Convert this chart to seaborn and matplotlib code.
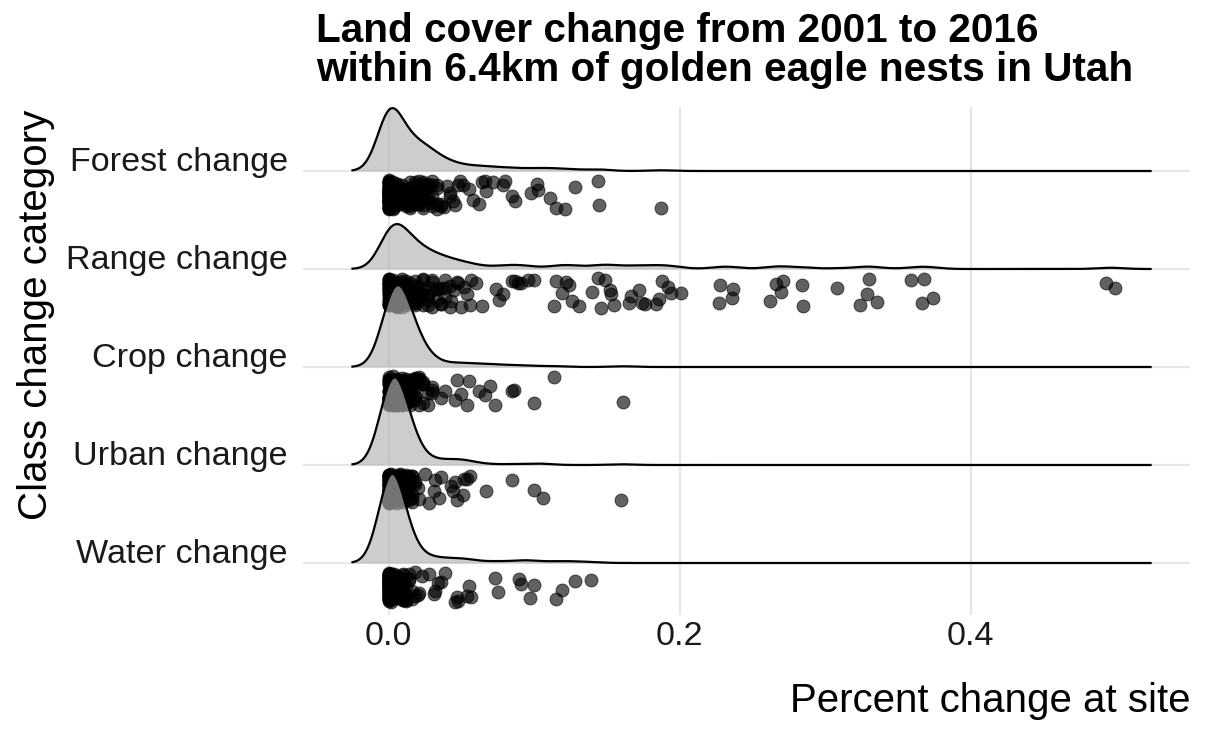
import numpy as np
import pandas as pd
import matplotlib
matplotlib.use("Agg")
import matplotlib.pyplot as plt
import seaborn as sns

categories = ["Forest change", "Range change", "Crop change", "Urban change", "Water change"]

forest_cluster_vals = [0.000, 0.003, 0.006, 0.009, 0.012, 0.015, 0.018, 0.021, 0.024, 0.027, 0.030, 0.033,
                       0.036, 0.038, 0.040, 0.042, 0.044, 0.046, 0.051, 0.058]
forest_cluster_counts = [62, 8, 7, 7, 7, 7, 7, 6, 6, 5, 5, 4, 1, 1, 1, 1, 1, 1, 1, 1]
forest_tail = [0.036, 0.042, 0.048, 0.049, 0.055, 0.062, 0.064, 0.066, 0.067, 0.072, 0.079, 0.080,
               0.085, 0.087, 0.098, 0.102, 0.103, 0.111, 0.115, 0.121, 0.128, 0.144, 0.145, 0.187]

range_cluster_vals = [0.000, 0.003, 0.006, 0.009, 0.012, 0.015, 0.018, 0.021, 0.024, 0.027, 0.030, 0.033,
                      0.036, 0.039, 0.042, 0.045, 0.048, 0.052, 0.056, 0.060]
range_cluster_counts = [28, 12, 11, 10, 8, 7, 6, 5, 5, 4, 4, 3, 3, 3, 2, 1, 1, 1, 1, 1]
range_tail = [0.043, 0.047, 0.050, 0.054, 0.057, 0.064, 0.074, 0.076, 0.079, 0.085, 0.087, 0.089,
              0.091, 0.096, 0.100, 0.114, 0.115, 0.119, 0.122, 0.124, 0.126, 0.131, 0.140, 0.144,
              0.146, 0.149, 0.152, 0.153, 0.155, 0.165, 0.167, 0.172, 0.174, 0.176, 0.184, 0.186,
              0.188, 0.192, 0.194, 0.201, 0.227, 0.228, 0.236, 0.237, 0.262, 0.266, 0.270, 0.271,
              0.284, 0.285, 0.308, 0.324, 0.329, 0.330, 0.336, 0.359, 0.367, 0.368, 0.374, 0.493, 0.499]

crop_cluster_vals = [0.000, 0.003, 0.006, 0.009, 0.012, 0.015, 0.018, 0.021, 0.024, 0.027, 0.030]
crop_cluster_counts = [26, 30, 26, 20, 15, 11, 8, 5, 3, 2, 2]
crop_tail = [0.023, 0.030, 0.036, 0.039, 0.046, 0.047, 0.050, 0.054, 0.055, 0.062, 0.066, 0.070,
             0.073, 0.085, 0.086, 0.100, 0.114, 0.161]

urban_cluster_vals = [0.000, 0.002, 0.004, 0.006, 0.008, 0.010, 0.012, 0.014, 0.016, 0.018]
urban_cluster_counts = [46, 22, 18, 14, 11, 9, 7, 7, 5, 2]
urban_tail = [0.011, 0.013, 0.016, 0.020, 0.021, 0.025, 0.028, 0.031, 0.032, 0.035, 0.036, 0.043,
              0.044, 0.046, 0.047, 0.051, 0.052, 0.054, 0.056, 0.067, 0.085, 0.100, 0.106, 0.160]

water_cluster_vals = [0.000, 0.002, 0.004, 0.006, 0.008, 0.010, 0.012, 0.014, 0.016, 0.018]
water_cluster_counts = [60, 24, 16, 11, 8, 6, 4, 3, 2, 2]
water_tail = [0.020, 0.021, 0.023, 0.028, 0.031, 0.032, 0.034, 0.036, 0.039, 0.046, 0.047, 0.048,
              0.054, 0.055, 0.057, 0.073, 0.075, 0.090, 0.091, 0.097, 0.100, 0.115, 0.119, 0.128, 0.139]

x_ticks = [0.0, 0.2, 0.4]
x_tick_labels = ["0.0", "0.2", "0.4"]
title_lines = ["Land cover change from 2001 to 2016",
               "within 6.4km of golden eagle nests in Utah"]
x_title = "Percent change at site"
y_title = "Class change category"

groups = {
    "Forest change": (forest_cluster_vals, forest_cluster_counts, forest_tail),
    "Range change": (range_cluster_vals, range_cluster_counts, range_tail),
    "Crop change": (crop_cluster_vals, crop_cluster_counts, crop_tail),
    "Urban change": (urban_cluster_vals, urban_cluster_counts, urban_tail),
    "Water change": (water_cluster_vals, water_cluster_counts, water_tail),
}
rows = []
for cat in categories:
    vals, cnts, tail = groups[cat]
    v = list(np.repeat(vals, cnts)) + list(tail)
    rows += [(cat, x) for x in v]
df = pd.DataFrame(rows, columns=["category", "value"])

# joint-bandwidth gaussian density on a common range (ggridges style)
bw = 0.0085
lo = df["value"].min() - 3 * bw
hi = df["value"].max() + 3 * bw
grid = np.linspace(lo, hi, 512)
dens = {}
for cat in categories:
    x = df.loc[df.category == cat, "value"].to_numpy()
    z = (grid[:, None] - x[None, :]) / bw
    dens[cat] = np.exp(-0.5 * z ** 2).sum(axis=1) / (len(x) * bw * np.sqrt(2 * np.pi))
dmax = max(d.max() for d in dens.values())
ridge_scale = 0.91

sns.set_theme(style="white")
plt.rcParams["font.family"] = ["Liberation Sans", "DejaVu Sans"]

PANEL_L, PANEL_R, PANEL_T, PANEL_B = 303, 1190, 107, 615
fig = plt.figure(figsize=(12.05, 7.32), dpi=100)
ax = fig.add_axes([PANEL_L / 1205, 1 - PANEL_B / 732, (PANEL_R - PANEL_L) / 1205, (PANEL_B - PANEL_T) / 732])

np.random.seed(7)
offset = 0.245
for i, cat in enumerate(categories):
    base = i - offset
    h = dens[cat] / dmax * ridge_scale
    ax.fill_between(grid, base - h, base, color=(0.70, 0.70, 0.70), alpha=0.65,
                    linewidth=0, zorder=2 + 2 * i)
    ax.plot(grid, base - h, color="black", lw=1.6, zorder=2.5 + 2 * i, solid_capstyle="butt")
    sns.stripplot(data=df[df.category == cat], x="value", y="category", order=categories,
                  jitter=0.15, size=9.3, color="black", alpha=0.62, linewidth=0.7,
                  edgecolor="black", ax=ax, zorder=3 + 2 * i)

ax.set_xlim((PANEL_L - 388.5) / 1455, (PANEL_R - 388.5) / 1455)
ax.set_ylim(4 - offset + (PANEL_B - 563) / 98, -offset - (171 - PANEL_T) / 98)
ax.set_yticks([i - offset for i in range(len(categories))])
ax.set_yticklabels(categories)
ax.set_xticks(x_ticks)
ax.set_xticklabels(x_tick_labels)
ax.set_xlabel("")
ax.set_ylabel("")
for s in ax.spines.values():
    s.set_visible(False)
ax.grid(True, color="#E6E6E6", lw=1.6)
ax.set_axisbelow(True)
ax.tick_params(axis="both", length=0, labelsize=24.6, colors="#1a1a1a")
ax.tick_params(axis="y", pad=11)
ax.tick_params(axis="x", pad=4)
for lab in ax.get_yticklabels():
    lab.set_verticalalignment("baseline")

fig.text(316 / 1205, 1 - 42 / 732, title_lines[0], fontsize=29.2, fontweight="bold",
         ha="left", va="baseline", color="black")
fig.text(316 / 1205, 1 - 81 / 732, title_lines[1], fontsize=29.2, fontweight="bold",
         ha="left", va="baseline", color="black")
fig.text(1190 / 1205, 1 - 712 / 732, x_title, fontsize=29, ha="right", va="baseline", color="black")
fig.text(36 / 1205, 1 - 315 / 732, y_title, fontsize=29, rotation=90, ha="center", va="center",
         color="black")

fig.savefig("out.png", dpi=100)
